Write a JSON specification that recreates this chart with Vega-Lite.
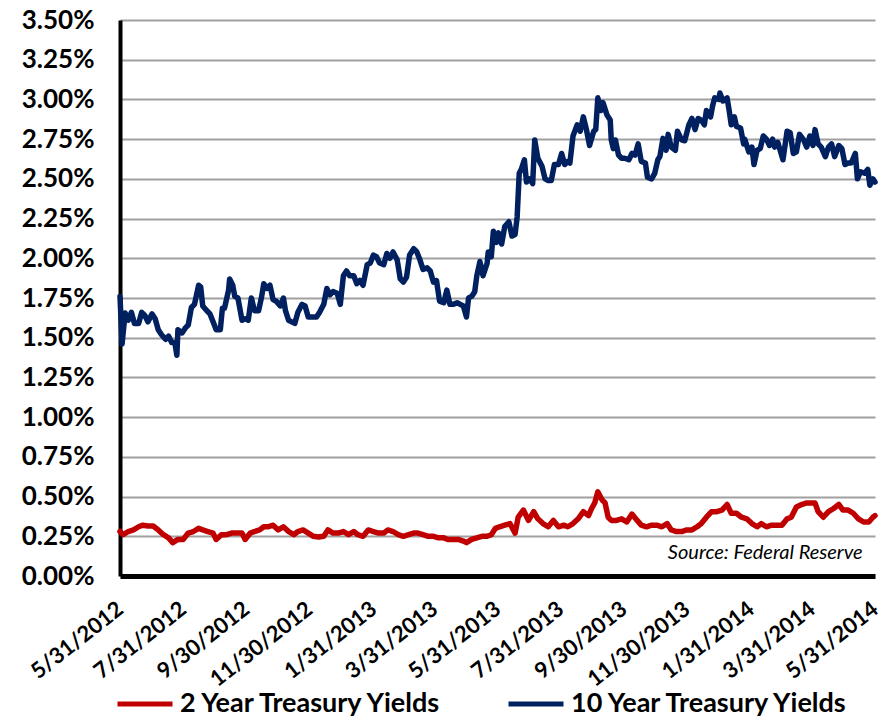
{
  "$schema": "https://vega.github.io/schema/vega-lite/v6.json",
  "width": 755,
  "height": 556,
  "autosize": {"type": "none"},
  "padding": {"left": 120, "top": 20, "right": 15, "bottom": 142},
  "background": "white",
  "config": {
    "view": {"stroke": null},
    "font": "Lato",
    "axis": {"labelFont": "Lato", "labelFontWeight": "bold", "labelColor": "black", "titleFont": "Lato"}
  },
  "datasets": {
    "ten": [
      {"d":"2012-05-31","v":1.76},{"d":"2012-06-02","v":1.46},{"d":"2012-06-05","v":1.655},{"d":"2012-06-08","v":1.61},{"d":"2012-06-11","v":1.66},{"d":"2012-06-14","v":1.59},{"d":"2012-06-18","v":1.59},{"d":"2012-06-21","v":1.66},{"d":"2012-06-24","v":1.64},{"d":"2012-06-27","v":1.60},
      {"d":"2012-07-01","v":1.65},{"d":"2012-07-04","v":1.62},{"d":"2012-07-07","v":1.55},{"d":"2012-07-10","v":1.52},{"d":"2012-07-14","v":1.49},{"d":"2012-07-17","v":1.51},{"d":"2012-07-20","v":1.47},{"d":"2012-07-23","v":1.47},{"d":"2012-07-25","v":1.39},{"d":"2012-07-26","v":1.55},{"d":"2012-07-30","v":1.53},
      {"d":"2012-08-02","v":1.56},{"d":"2012-08-05","v":1.58},{"d":"2012-08-08","v":1.69},{"d":"2012-08-11","v":1.71},{"d":"2012-08-15","v":1.83},{"d":"2012-08-17","v":1.82},{"d":"2012-08-19","v":1.70},{"d":"2012-08-23","v":1.67},{"d":"2012-08-26","v":1.65},{"d":"2012-08-29","v":1.60},
      {"d":"2012-09-01","v":1.55},{"d":"2012-09-05","v":1.55},{"d":"2012-09-07","v":1.685},{"d":"2012-09-09","v":1.685},{"d":"2012-09-13","v":1.80},{"d":"2012-09-14","v":1.87},{"d":"2012-09-17","v":1.83},{"d":"2012-09-19","v":1.76},{"d":"2012-09-22","v":1.75},{"d":"2012-09-26","v":1.61},{"d":"2012-09-29","v":1.62},
      {"d":"2012-10-02","v":1.61},{"d":"2012-10-05","v":1.75},{"d":"2012-10-08","v":1.67},{"d":"2012-10-12","v":1.67},{"d":"2012-10-15","v":1.76},{"d":"2012-10-17","v":1.84},{"d":"2012-10-20","v":1.81},{"d":"2012-10-23","v":1.83},{"d":"2012-10-26","v":1.74},{"d":"2012-10-29","v":1.73},
      {"d":"2012-11-02","v":1.70},{"d":"2012-11-05","v":1.75},{"d":"2012-11-07","v":1.67},{"d":"2012-11-10","v":1.61},{"d":"2012-11-13","v":1.60},{"d":"2012-11-16","v":1.59},{"d":"2012-11-19","v":1.66},{"d":"2012-11-23","v":1.71},{"d":"2012-11-26","v":1.70},{"d":"2012-11-29","v":1.63},
      {"d":"2012-12-02","v":1.63},{"d":"2012-12-07","v":1.63},{"d":"2012-12-10","v":1.66},{"d":"2012-12-14","v":1.71},{"d":"2012-12-17","v":1.81},{"d":"2012-12-20","v":1.77},{"d":"2012-12-23","v":1.79},{"d":"2012-12-27","v":1.78},{"d":"2012-12-30","v":1.71},
      {"d":"2013-01-02","v":1.89},{"d":"2013-01-05","v":1.92},{"d":"2013-01-08","v":1.89},{"d":"2013-01-12","v":1.89},{"d":"2013-01-15","v":1.84},{"d":"2013-01-18","v":1.86},{"d":"2013-01-21","v":1.83},{"d":"2013-01-25","v":1.96},{"d":"2013-01-28","v":1.97},{"d":"2013-01-31","v":2.02},
      {"d":"2013-02-03","v":2.01},{"d":"2013-02-06","v":1.97},{"d":"2013-02-10","v":1.96},{"d":"2013-02-13","v":2.03},{"d":"2013-02-16","v":2.00},{"d":"2013-02-19","v":2.04},{"d":"2013-02-23","v":1.99},{"d":"2013-02-26","v":1.87},
      {"d":"2013-03-01","v":1.85},{"d":"2013-03-04","v":1.88},{"d":"2013-03-07","v":2.02},{"d":"2013-03-11","v":2.06},{"d":"2013-03-14","v":2.04},{"d":"2013-03-17","v":1.99},{"d":"2013-03-20","v":1.93},{"d":"2013-03-24","v":1.94},{"d":"2013-03-27","v":1.92},{"d":"2013-03-30","v":1.85},
      {"d":"2013-04-02","v":1.86},{"d":"2013-04-05","v":1.73},{"d":"2013-04-09","v":1.72},{"d":"2013-04-12","v":1.80},{"d":"2013-04-15","v":1.71},{"d":"2013-04-18","v":1.71},{"d":"2013-04-22","v":1.72},{"d":"2013-04-25","v":1.71},{"d":"2013-04-28","v":1.70},
      {"d":"2013-05-01","v":1.63},{"d":"2013-05-03","v":1.75},{"d":"2013-05-06","v":1.76},{"d":"2013-05-09","v":1.79},{"d":"2013-05-11","v":1.89},{"d":"2013-05-14","v":1.98},{"d":"2013-05-17","v":1.89},{"d":"2013-05-21","v":1.97},{"d":"2013-05-22","v":2.04},{"d":"2013-05-25","v":2.01},{"d":"2013-05-27","v":2.17},{"d":"2013-05-30","v":2.10},
      {"d":"2013-06-01","v":2.16},{"d":"2013-06-04","v":2.09},{"d":"2013-06-07","v":2.20},{"d":"2013-06-11","v":2.23},{"d":"2013-06-14","v":2.14},{"d":"2013-06-17","v":2.15},{"d":"2013-06-19","v":2.26},{"d":"2013-06-21","v":2.535},{"d":"2013-06-23","v":2.56},{"d":"2013-06-26","v":2.62},{"d":"2013-06-28","v":2.48},
      {"d":"2013-07-01","v":2.50},{"d":"2013-07-04","v":2.47},{"d":"2013-07-06","v":2.745},{"d":"2013-07-09","v":2.63},{"d":"2013-07-13","v":2.58},{"d":"2013-07-16","v":2.50},{"d":"2013-07-19","v":2.49},{"d":"2013-07-22","v":2.49},{"d":"2013-07-25","v":2.59},{"d":"2013-07-29","v":2.59},
      {"d":"2013-08-01","v":2.66},{"d":"2013-08-04","v":2.59},{"d":"2013-08-07","v":2.61},{"d":"2013-08-09","v":2.60},{"d":"2013-08-12","v":2.77},{"d":"2013-08-16","v":2.84},{"d":"2013-08-19","v":2.80},{"d":"2013-08-22","v":2.89},{"d":"2013-08-25","v":2.81},{"d":"2013-08-28","v":2.71},
      {"d":"2013-09-01","v":2.80},{"d":"2013-09-03","v":2.81},{"d":"2013-09-05","v":3.01},{"d":"2013-09-08","v":2.93},{"d":"2013-09-10","v":2.98},{"d":"2013-09-14","v":2.90},{"d":"2013-09-17","v":2.87},{"d":"2013-09-18","v":2.745},{"d":"2013-09-20","v":2.69},{"d":"2013-09-22","v":2.745},{"d":"2013-09-25","v":2.65},{"d":"2013-09-28","v":2.63},
      {"d":"2013-10-01","v":2.63},{"d":"2013-10-05","v":2.62},{"d":"2013-10-08","v":2.66},{"d":"2013-10-11","v":2.65},{"d":"2013-10-14","v":2.72},{"d":"2013-10-17","v":2.61},{"d":"2013-10-21","v":2.60},{"d":"2013-10-23","v":2.51},{"d":"2013-10-27","v":2.50},{"d":"2013-10-30","v":2.535},
      {"d":"2013-11-02","v":2.62},{"d":"2013-11-04","v":2.64},{"d":"2013-11-07","v":2.755},{"d":"2013-11-10","v":2.68},{"d":"2013-11-12","v":2.78},{"d":"2013-11-15","v":2.70},{"d":"2013-11-19","v":2.68},{"d":"2013-11-21","v":2.80},{"d":"2013-11-25","v":2.745},{"d":"2013-11-28","v":2.74},
      {"d":"2013-12-02","v":2.84},{"d":"2013-12-05","v":2.88},{"d":"2013-12-08","v":2.81},{"d":"2013-12-11","v":2.88},{"d":"2013-12-14","v":2.87},{"d":"2013-12-17","v":2.84},{"d":"2013-12-19","v":2.93},{"d":"2013-12-23","v":2.89},{"d":"2013-12-25","v":2.96},{"d":"2013-12-27","v":3.01},{"d":"2013-12-31","v":3.00},
      {"d":"2014-01-01","v":3.04},{"d":"2014-01-04","v":2.99},{"d":"2014-01-08","v":3.01},{"d":"2014-01-10","v":2.93},{"d":"2014-01-12","v":2.84},{"d":"2014-01-15","v":2.89},{"d":"2014-01-17","v":2.83},{"d":"2014-01-21","v":2.82},{"d":"2014-01-24","v":2.72},{"d":"2014-01-25","v":2.75},{"d":"2014-01-29","v":2.67},
      {"d":"2014-02-01","v":2.70},{"d":"2014-02-03","v":2.59},{"d":"2014-02-06","v":2.68},{"d":"2014-02-09","v":2.69},{"d":"2014-02-12","v":2.77},{"d":"2014-02-15","v":2.75},{"d":"2014-02-18","v":2.71},{"d":"2014-02-21","v":2.75},{"d":"2014-02-23","v":2.70},{"d":"2014-02-26","v":2.73},
      {"d":"2014-03-03","v":2.62},{"d":"2014-03-07","v":2.80},{"d":"2014-03-10","v":2.79},{"d":"2014-03-13","v":2.66},{"d":"2014-03-16","v":2.67},{"d":"2014-03-19","v":2.78},{"d":"2014-03-23","v":2.745},{"d":"2014-03-26","v":2.70},{"d":"2014-03-29","v":2.77},
      {"d":"2014-04-01","v":2.71},{"d":"2014-04-03","v":2.81},{"d":"2014-04-06","v":2.72},{"d":"2014-04-09","v":2.70},{"d":"2014-04-13","v":2.64},{"d":"2014-04-16","v":2.70},{"d":"2014-04-19","v":2.72},{"d":"2014-04-22","v":2.64},{"d":"2014-04-26","v":2.71},{"d":"2014-04-29","v":2.69},
      {"d":"2014-05-02","v":2.59},{"d":"2014-05-05","v":2.60},{"d":"2014-05-08","v":2.60},{"d":"2014-05-12","v":2.66},{"d":"2014-05-14","v":2.50},{"d":"2014-05-17","v":2.545},{"d":"2014-05-21","v":2.535},{"d":"2014-05-24","v":2.56},{"d":"2014-05-26","v":2.46},{"d":"2014-05-29","v":2.50},{"d":"2014-05-31","v":2.48}
    ],
    "two": [
      {"d":"2012-05-31","v":0.28},{"d":"2012-06-03","v":0.26},{"d":"2012-06-08","v":0.28},{"d":"2012-06-13","v":0.29},{"d":"2012-06-18","v":0.31},{"d":"2012-06-22","v":0.32},{"d":"2012-06-27","v":0.315},
      {"d":"2012-07-02","v":0.315},{"d":"2012-07-07","v":0.29},{"d":"2012-07-12","v":0.26},{"d":"2012-07-17","v":0.24},{"d":"2012-07-21","v":0.21},{"d":"2012-07-26","v":0.23},{"d":"2012-07-31","v":0.23},
      {"d":"2012-08-05","v":0.27},{"d":"2012-08-10","v":0.28},{"d":"2012-08-15","v":0.30},{"d":"2012-08-19","v":0.29},{"d":"2012-08-24","v":0.28},{"d":"2012-08-29","v":0.27},
      {"d":"2012-09-01","v":0.23},{"d":"2012-09-06","v":0.26},{"d":"2012-09-11","v":0.26},{"d":"2012-09-16","v":0.27},{"d":"2012-09-21","v":0.27},{"d":"2012-09-26","v":0.27},{"d":"2012-09-29","v":0.23},
      {"d":"2012-10-04","v":0.27},{"d":"2012-10-08","v":0.28},{"d":"2012-10-13","v":0.29},{"d":"2012-10-17","v":0.31},{"d":"2012-10-21","v":0.31},{"d":"2012-10-26","v":0.32},{"d":"2012-10-31","v":0.29},
      {"d":"2012-11-05","v":0.31},{"d":"2012-11-10","v":0.28},{"d":"2012-11-15","v":0.26},{"d":"2012-11-19","v":0.28},{"d":"2012-11-24","v":0.29},{"d":"2012-11-29","v":0.27},
      {"d":"2012-12-04","v":0.25},{"d":"2012-12-09","v":0.245},{"d":"2012-12-14","v":0.25},{"d":"2012-12-18","v":0.29},{"d":"2012-12-23","v":0.27},{"d":"2012-12-28","v":0.27},
      {"d":"2013-01-02","v":0.28},{"d":"2013-01-07","v":0.26},{"d":"2013-01-12","v":0.28},{"d":"2013-01-16","v":0.26},{"d":"2013-01-21","v":0.25},{"d":"2013-01-26","v":0.29},{"d":"2013-01-31","v":0.28},
      {"d":"2013-02-05","v":0.27},{"d":"2013-02-10","v":0.27},{"d":"2013-02-14","v":0.29},{"d":"2013-02-19","v":0.28},{"d":"2013-02-24","v":0.26},
      {"d":"2013-03-01","v":0.25},{"d":"2013-03-06","v":0.26},{"d":"2013-03-11","v":0.27},{"d":"2013-03-15","v":0.27},{"d":"2013-03-20","v":0.26},{"d":"2013-03-25","v":0.25},{"d":"2013-03-30","v":0.25},
      {"d":"2013-04-04","v":0.24},{"d":"2013-04-09","v":0.24},{"d":"2013-04-13","v":0.23},{"d":"2013-04-18","v":0.23},{"d":"2013-04-23","v":0.23},{"d":"2013-04-28","v":0.22},
      {"d":"2013-05-01","v":0.21},{"d":"2013-05-06","v":0.23},{"d":"2013-05-11","v":0.24},{"d":"2013-05-16","v":0.25},{"d":"2013-05-21","v":0.25},{"d":"2013-05-25","v":0.26},{"d":"2013-05-29","v":0.30},
      {"d":"2013-06-02","v":0.31},{"d":"2013-06-07","v":0.32},{"d":"2013-06-12","v":0.33},{"d":"2013-06-17","v":0.27},{"d":"2013-06-20","v":0.37},{"d":"2013-06-25","v":0.415},{"d":"2013-06-30","v":0.35},
      {"d":"2013-07-05","v":0.405},{"d":"2013-07-09","v":0.36},{"d":"2013-07-14","v":0.33},{"d":"2013-07-19","v":0.31},{"d":"2013-07-24","v":0.35},{"d":"2013-07-29","v":0.31},
      {"d":"2013-08-03","v":0.32},{"d":"2013-08-07","v":0.31},{"d":"2013-08-12","v":0.33},{"d":"2013-08-17","v":0.36},{"d":"2013-08-22","v":0.405},{"d":"2013-08-27","v":0.38},{"d":"2013-08-30","v":0.425},
      {"d":"2013-09-02","v":0.46},{"d":"2013-09-05","v":0.53},{"d":"2013-09-09","v":0.48},{"d":"2013-09-12","v":0.46},{"d":"2013-09-15","v":0.37},{"d":"2013-09-18","v":0.35},{"d":"2013-09-23","v":0.35},{"d":"2013-09-28","v":0.36},
      {"d":"2013-10-03","v":0.34},{"d":"2013-10-08","v":0.39},{"d":"2013-10-13","v":0.35},{"d":"2013-10-17","v":0.32},{"d":"2013-10-22","v":0.31},{"d":"2013-10-27","v":0.32},
      {"d":"2013-11-01","v":0.32},{"d":"2013-11-06","v":0.31},{"d":"2013-11-11","v":0.33},{"d":"2013-11-15","v":0.29},{"d":"2013-11-20","v":0.28},{"d":"2013-11-25","v":0.28},{"d":"2013-11-30","v":0.29},
      {"d":"2013-12-05","v":0.29},{"d":"2013-12-10","v":0.31},{"d":"2013-12-14","v":0.33},{"d":"2013-12-19","v":0.37},{"d":"2013-12-24","v":0.405},{"d":"2013-12-29","v":0.405},
      {"d":"2014-01-03","v":0.415},{"d":"2014-01-08","v":0.45},{"d":"2014-01-12","v":0.395},{"d":"2014-01-17","v":0.395},{"d":"2014-01-22","v":0.37},{"d":"2014-01-27","v":0.36},
      {"d":"2014-02-01","v":0.33},{"d":"2014-02-06","v":0.31},{"d":"2014-02-10","v":0.33},{"d":"2014-02-15","v":0.31},{"d":"2014-02-20","v":0.32},{"d":"2014-02-25","v":0.32},
      {"d":"2014-03-02","v":0.32},{"d":"2014-03-07","v":0.36},{"d":"2014-03-11","v":0.37},{"d":"2014-03-16","v":0.435},{"d":"2014-03-21","v":0.45},{"d":"2014-03-26","v":0.46},{"d":"2014-03-31","v":0.46},
      {"d":"2014-04-03","v":0.46},{"d":"2014-04-06","v":0.405},{"d":"2014-04-11","v":0.37},{"d":"2014-04-16","v":0.405},{"d":"2014-04-21","v":0.425},{"d":"2014-04-26","v":0.45},{"d":"2014-04-30","v":0.415},
      {"d":"2014-05-05","v":0.415},{"d":"2014-05-10","v":0.395},{"d":"2014-05-15","v":0.36},{"d":"2014-05-20","v":0.34},{"d":"2014-05-25","v":0.34},{"d":"2014-05-29","v":0.37},{"d":"2014-05-31","v":0.38}
    ],
    "note": [{"d":"2014-05-19","v":0.11,"t":"Source: Federal Reserve"}]
  },
  "encoding": {
    "x": {
      "field": "d", "type": "temporal",
      "scale": {"type": "utc", "domain": [{"year":2012,"month":5,"date":31,"utc":true},{"year":2014,"month":5,"date":31,"utc":true}]},
      "axis": {
        "title": null, "grid": false, "ticks": false,
        "domainColor": "black", "domainWidth": 5,
        "values": [
          {"year":2012,"month":5,"date":31,"utc":true},{"year":2012,"month":7,"date":31,"utc":true},{"year":2012,"month":9,"date":30,"utc":true},{"year":2012,"month":11,"date":30,"utc":true},
          {"year":2013,"month":1,"date":31,"utc":true},{"year":2013,"month":3,"date":31,"utc":true},{"year":2013,"month":5,"date":31,"utc":true},{"year":2013,"month":7,"date":31,"utc":true},
          {"year":2013,"month":9,"date":30,"utc":true},{"year":2013,"month":11,"date":30,"utc":true},{"year":2014,"month":1,"date":31,"utc":true},{"year":2014,"month":3,"date":31,"utc":true},{"year":2014,"month":5,"date":31,"utc":true}
        ],
        "labelExpr": "utcFormat(datum.value, '%-m/%-d/%Y')",
        "labelAngle": -38, "labelAlign": "right", "labelBaseline": "middle",
        "labelFontSize": 22, "labelPadding": 30, "labelFlush": false, "labelOverlap": false, "labelBound": false
      }
    },
    "y": {
      "field": "v", "type": "quantitative",
      "scale": {"domain": [0, 3.5], "nice": false, "zero": true},
      "axis": {
        "title": null, "ticks": false, "grid": true, "gridColor": "#A0A0A0", "gridWidth": 2,
        "domainColor": "black", "domainWidth": 4,
        "values": [0, 0.25, 0.5, 0.75, 1, 1.25, 1.5, 1.75, 2, 2.25, 2.5, 2.75, 3, 3.25, 3.5],
        "labelExpr": "format(datum.value, '.2f') + '%'",
        "labelFontSize": 26, "labelPadding": 26, "labelFlush": false, "labelBound": false
      }
    }
  },
  "layer": [
    {
      "data": {"name": "two"},
      "mark": {"type": "line", "strokeWidth": 5.5, "strokeJoin": "round", "strokeCap": "round"},
      "encoding": {
        "color": {
          "datum": "2 Year Treasury Yields",
          "scale": {"domain": ["2 Year Treasury Yields", "10 Year Treasury Yields"], "range": ["#C00000", "#002060"]},
          "legend": {
            "title": null, "orient": "none", "direction": "horizontal",
            "legendX": -5, "legendY": 654,
            "symbolType": "stroke", "symbolSize": 3025, "symbolStrokeWidth": 5,
            "labelFont": "Lato", "labelFontWeight": "bold", "labelFontSize": 27, "labelColor": "black",
            "labelOffset": 5, "columnPadding": 54, "labelLimit": 400
          }
        }
      }
    },
    {
      "data": {"name": "ten"},
      "mark": {"type": "line", "strokeWidth": 5.5, "strokeJoin": "round", "strokeCap": "round"},
      "encoding": {"color": {"datum": "10 Year Treasury Yields"}}
    },
    {
      "data": {"name": "note"},
      "mark": {"type": "text", "align": "right", "baseline": "alphabetic", "font": "Lato", "fontStyle": "italic", "fontSize": 20, "color": "black"},
      "encoding": {"text": {"field": "t"}}
    }
  ]
}
